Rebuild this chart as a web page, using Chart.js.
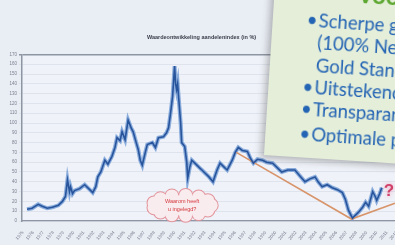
<!DOCTYPE html>
<html lang="nl">
<head>
<meta charset="UTF-8">
<title>Waardeontwikkeling</title>
<script src="https://cdn.jsdelivr.net/npm/chart.js"></script>
<style>
    html, body { margin: 0; padding: 0; }
    body {
        width: 395px;
        height: 245px;
        overflow: hidden;
        position: relative;
        background: #e9edf4;
        font-family: "Liberation Sans", Arial, sans-serif;
    }
    #wrap { position: absolute; left: 0; top: 0; width: 405px; height: 245px; }
    .note {
        position: absolute;
        left: 264px;
        top: -45px;
        width: 230px;
        height: 200px;
        background: #e4eed9;
        transform-origin: 0 100%;
        transform: rotate(3.7deg);
        box-shadow: -3px 3px 7px rgba(60, 60, 60, 0.35);
        font-family: Lato, "Open Sans", sans-serif;
        color: #2464b4;
        white-space: nowrap;
    }
    .note .ln { position: absolute; left: 46px; font-size: 18.5px; line-height: 19px; }
    .note .bul { position: absolute; left: 34px; font-size: 18.5px; line-height: 19px; }
    .note .head { position: absolute; left: 58px; top: 21px; font-size: 24px; line-height: 24px; font-weight: bold; color: #5ea832; }
</style>
</head>
<body>
<div id="wrap"><canvas id="chart" width="405" height="245"></canvas></div>

<div class="note">
    <div class="head">&#10003; Voordelen</div>
    <div class="bul" style="top:52.6px">&bull;</div>
    <div class="ln" style="top:52.6px">Scherpe goudprijs</div>
    <div class="ln" style="top:74.6px">(100% Nederlandse</div>
    <div class="ln" style="top:97.6px">Gold Standard)</div>
    <div class="bul" style="top:119.8px">&bull;</div>
    <div class="ln" style="top:119.8px">Uitstekende service</div>
    <div class="bul" style="top:141.9px">&bull;</div>
    <div class="ln" style="top:141.9px">Transparante prijzen</div>
    <div class="bul" style="top:166.9px">&bull;</div>
    <div class="ln" style="top:166.9px">Optimale prijs</div>
</div>

<script>
    // waarden (jaar, index)
    const years = [
        1975.4, 1975.9, 1976.5, 1976.9, 1977.4, 1977.9, 1978.5, 1978.9, 1979.2, 1979.4,
        1979.6, 1979.7, 1979.9, 1980.1, 1980.6, 1981.1, 1981.5, 1981.9, 1982.2, 1982.4,
        1982.7, 1983.1, 1983.4, 1983.8, 1984.1, 1984.3, 1984.6, 1984.8, 1985.1, 1985.4,
        1985.7, 1985.9, 1986.2, 1986.4, 1986.6, 1986.8, 1987.1, 1987.3, 1987.8, 1988.1,
        1988.4, 1988.9, 1989.2, 1989.4, 1989.6, 1989.8, 1990.0, 1990.1, 1990.2, 1990.3,
        1990.4, 1990.6, 1990.7, 1991.0, 1991.2, 1991.3, 1991.5, 1991.7, 1992.0, 1992.2,
        1992.5, 1992.7, 1993.0, 1993.4, 1993.8, 1994.2, 1994.5, 1994.9, 1995.2, 1995.5,
        1995.7, 1996.0, 1996.3, 1996.7, 1997.2, 1997.5, 1997.8, 1998.2, 1998.7, 1999.1,
        1999.7, 2000.1, 2000.6, 2001.2, 2001.9, 2002.4, 2002.9, 2003.4, 2003.9, 2004.2,
        2004.6, 2005.1, 2005.6, 2006.1, 2006.6, 2006.9, 2007.2, 2007.6, 2007.9, 2008.2,
        2008.6, 2008.9, 2009.2, 2009.6, 2009.9, 2010.0, 2010.3, 2010.5
    ];
    const values = [
        12, 13, 17, 15, 13, 14, 16, 20, 25, 42,
        30, 35, 28, 31, 33, 37, 33, 29, 35, 45,
        50, 62, 58, 66, 75, 85, 82, 91, 83, 103,
        95, 91, 80, 73, 62, 57, 70, 78, 80, 75,
        85, 86, 90, 95, 110, 127, 158, 140, 134, 140,
        126, 100, 80, 76, 60, 44, 55, 62, 59, 57,
        54, 52, 49, 45, 40, 52, 59, 55, 52, 58,
        62, 70, 75, 72, 71, 64, 59, 63, 62, 60,
        59, 55, 50, 52, 52, 46, 40, 43, 45, 40,
        35, 37, 34, 32, 29, 22, 11, 3, 6, 9,
        14, 19, 15, 30, 24, 21, 28, 34
    ];
    // trendlijn (oranje)
    const trendYears = [1996.1, 2007.5, 2011.8];
    const trendValues = [70, 2, 18];

    const yMax = 170;
    const yStep = 10;
    const xMin = 1974.9;
    const xMax = 2012.6;

    const titleText = "Waardeontwikkeling aandelenindex (in %)";
    const cloudLines = ["Waarom heeft", "u ingelegd?"];

    const linePoints = years.map((y, i) => ({ x: y, y: values[i] }));
    const trendPoints = trendYears.map((y, i) => ({ x: y, y: trendValues[i] }));

    function drawCloud(ctx, cx, cy, rx, ry) {
        const n = 13, r = 6.5;
        const bumps = [];
        for (let i = 0; i < n; i++) {
            const a = i * 2 * Math.PI / n;
            bumps.push([cx + rx * Math.cos(a), cy + ry * Math.sin(a)]);
        }
        ctx.strokeStyle = "#e3939b";
        ctx.lineWidth = 2;
        bumps.forEach(b => { ctx.beginPath(); ctx.arc(b[0], b[1], r, 0, 2 * Math.PI); ctx.stroke(); });
        ctx.fillStyle = "#f9ecef";
        bumps.forEach(b => { ctx.beginPath(); ctx.arc(b[0], b[1], r, 0, 2 * Math.PI); ctx.fill(); });
        ctx.beginPath();
        ctx.ellipse(cx, cy, rx, ry, 0, 0, 2 * Math.PI);
        ctx.fill();
    }

    const decor = {
        id: "decor",
        beforeDraw(chart) {
            const { ctx, chartArea: a } = chart;
            ctx.save();
            ctx.fillStyle = "#e9edf4";
            ctx.fillRect(0, 0, chart.width, chart.height);
            ctx.fillStyle = "#eff2f8";
            ctx.fillRect(a.left, a.top, a.right - a.left, a.bottom - a.top);
            ctx.restore();
        },
        afterDatasetsDraw(chart) {
            const { ctx, scales } = chart;
            const cx = scales.x.getPixelForValue(1990.75);
            const cy = scales.y.getPixelForValue(16);
            ctx.save();
            drawCloud(ctx, cx, cy, 29, 10);
            ctx.fillStyle = "#d4373a";
            ctx.font = "5.5px 'Liberation Sans', Arial, sans-serif";
            ctx.textAlign = "center";
            ctx.textBaseline = "middle";
            ctx.fillText(cloudLines[0], cx, cy - 3.5);
            ctx.fillText(cloudLines[1], cx, cy + 4);
            // vraagteken rechts
            const qx = scales.x.getPixelForValue(2011.2);
            const qy = scales.y.getPixelForValue(30);
            ctx.shadowColor = "rgba(240,150,180,0.9)";
            ctx.shadowBlur = 4;
            ctx.fillStyle = "#d0426a";
            ctx.font = "bold 17px 'Liberation Sans', Arial, sans-serif";
            ctx.fillText("?", qx, qy);
            ctx.restore();
        }
    };

    new Chart(document.getElementById("chart"), {
        type: "line",
        data: {
            datasets: [
                {
                    label: "index",
                    data: linePoints,
                    borderColor: "#28549c",
                    borderWidth: 1.6,
                    pointRadius: 0,
                    order: 1
                },
                {
                    label: "halo",
                    data: linePoints,
                    borderColor: "rgba(120,160,215,0.85)",
                    borderWidth: 4,
                    pointRadius: 0,
                    order: 3
                },
                {
                    label: "trend",
                    data: trendPoints,
                    borderColor: "#d8946a",
                    borderWidth: 1.6,
                    pointRadius: 0,
                    order: 2
                }
            ]
        },
        options: {
            responsive: false,
            animation: false,
            devicePixelRatio: 1,
            layout: { padding: { left: 0, right: 2, top: 0, bottom: 0 } },
            plugins: {
                legend: { display: false },
                tooltip: { enabled: false },
                title: {
                    display: true,
                    text: titleText,
                    color: "#3a3f4a",
                    font: { size: 5.5, weight: "bold", family: "'Liberation Sans', Arial, sans-serif" },
                    padding: { top: 34.4, bottom: 13.4 }
                }
            },
            scales: {
                x: {
                    type: "linear",
                    min: xMin,
                    max: xMax,
                    afterFit: s => { s.height = 24; },
                    grid: { display: false },
                    border: { display: true, color: "#8e95a3", width: 1.2 },
                    ticks: {
                        stepSize: 1,
                        includeBounds: false,
                        autoSkip: false,
                        minRotation: 50,
                        maxRotation: 50,
                        padding: 1,
                        color: "#7b8190",
                        font: { size: 4.5 },
                        callback: v => Number.isInteger(v) ? String(v) : ""
                    }
                },
                y: {
                    min: 0,
                    max: yMax,
                    afterFit: s => { s.width = 22; },
                    grid: {
                        color: ctx => ctx.tick && ctx.tick.value === yMax ? "#8e95a3" : "#d9dee8",
                        lineWidth: ctx => ctx.tick && ctx.tick.value === yMax ? 1.5 : 0.8,
                        tickLength: 3
                    },
                    border: { display: true, color: "#8e95a3", width: 1.5 },
                    ticks: {
                        stepSize: yStep,
                        padding: 2,
                        color: "#7b8190",
                        font: { size: 4.5 }
                    }
                }
            }
        },
        plugins: [decor]
    });
</script>
</body>
</html>
